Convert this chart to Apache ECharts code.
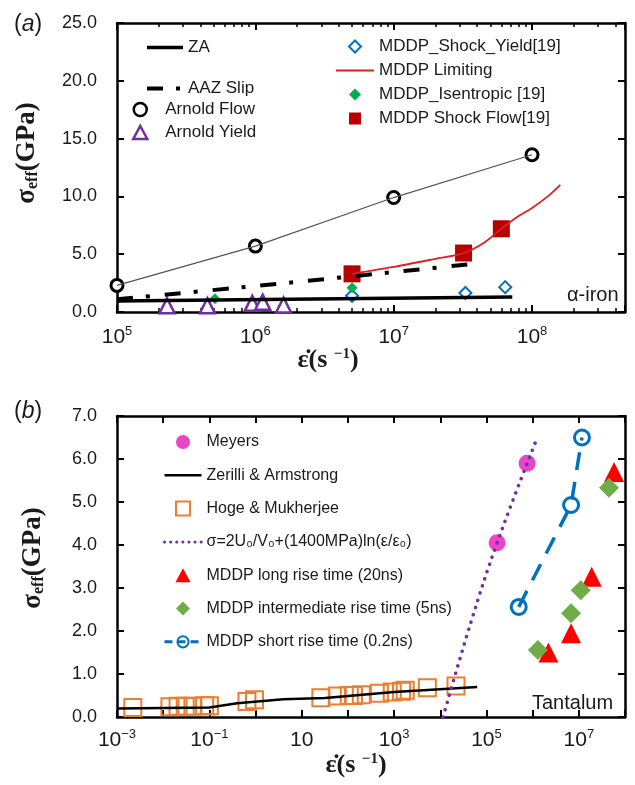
<!DOCTYPE html>
<html>
<head>
<meta charset="utf-8">
<script src="https://cdn.jsdelivr.net/npm/echarts@6/dist/echarts.min.js"></script>
<style>
  html, body { margin: 0; padding: 0; background: #fff; }
  #chart { width: 635px; height: 785px; }
</style>
</head>
<body>
<div id="chart"></div>
<script>
// ---- panel (a): alpha-iron, strain rate (1/s) vs stress (GPa) ----
const zaRate = [1e5, 7.2e7]
const zaStress = [0.95, 1.3]
const aazRate = [1e5, 1e6, 1e7, 4e7]
const aazStress = [1.1, 2.25, 3.45, 4.2]
const arnoldFlowRate = [1e5, 1e6, 1e7, 1e8]
const arnoldFlowStress = [2.3, 5.7, 9.9, 13.6]
const arnoldYieldRate = [2.3e5, 4.5e5, 9.5e5, 1.13e6, 1.6e6]
const arnoldYieldStress = [0.55, 0.55, 0.75, 0.85, 0.6]
const shockYieldRate = [5e6, 3.3e7, 6.4e7]
const shockYieldStress = [1.4, 1.65, 2.15]
const limitingRate = [5e6, 1e7, 2e7, 3.2e7, 4.5e7, 6e7, 8e7, 1e8, 1.3e8, 1.6e8]
const limitingStress = [3.3, 3.9, 4.6, 5.1, 6.0, 7.2, 8.3, 9.0, 10.0, 11.0]
const isentropicRate = [5.1e5, 5e6]
const isentropicStress = [1.15, 2.1]
const shockFlowRate = [5e6, 3.2e7, 6e7]
const shockFlowStress = [3.3, 5.1, 7.2]

// ---- panel (b): tantalum ----
const meyersRate = [1.7e5, 7.6e5]
const meyersStress = [4.05, 5.9]
const zerilliRate = [1e-3, 0.1, 0.4, 4, 32, 1000, 6.3e4]
const zerilliStress = [0.2, 0.22, 0.32, 0.41, 0.44, 0.58, 0.7]
const hogeRate = [0.0022, 0.014, 0.021, 0.03, 0.044, 0.079, 0.1, 0.65, 0.95, 26, 59, 107, 132, 195, 479, 912, 1450, 1740, 5250, 21900]
const hogeStress = [0.22, 0.24, 0.25, 0.25, 0.25, 0.26, 0.26, 0.36, 0.4, 0.45, 0.49, 0.5, 0.5, 0.52, 0.55, 0.58, 0.6, 0.62, 0.68, 0.72]
const sigmaRate = [1.15e4, 4.6e4, 1.7e5, 1.16e6]
const sigmaStress = [0, 2.2, 4.05, 6.4]
const longRate = [2.2e6, 6.8e6, 1.9e7, 5.8e7]
const longStress = [1.5, 1.95, 3.26, 5.7]
const interRate = [1.3e6, 6.8e6, 1.1e7, 4.5e7]
const interStress = [1.56, 2.41, 2.95, 5.33]
const shortRate = [5e5, 6.8e6, 1.17e7]
const shortStress = [2.56, 4.93, 6.5]

// tick labels
const aExponents = [5, 6, 7, 8]
const bExponents = [-3, -1, 1, 3, 5, 7]

const FONT = '"Liberation Sans", Arial, sans-serif'
const SERIF = '"Liberation Serif", "Times New Roman", serif'
const INK = '#1a1a1a'
const SIGMA_NAME = 'σ=2U₀/V₀+(1400MPa)ln(ε/ε₀)'

// legend icons as paths so they keep their aspect inside the wide icon box
const ICON_DIAMOND = 'path://M6,0L12,6L6,12L0,6Z'
const ICON_SQUARE = 'path://M0,0L12,0L12,12L0,12Z'
const ICON_TRIANGLE = 'path://M7,0L14,13L0,13Z'

const pairs = (xs, ys) => xs.map((x, i) => [x, ys[i]])
const logPairs = (xs, ys) => xs.map((x, i) => [Math.log10(x), ys[i]])

const supText = e => String(e).replace('-', '−')
const powLabel = e => e === 1 ? '{b|10}' : '{b|10}{s|' + supText(e) + '}'
const tickRich = {
  b: { fontSize: 21, fontFamily: FONT, color: INK, lineHeight: 24 },
  s: { fontSize: 13, fontFamily: FONT, color: INK, verticalAlign: 'top', lineHeight: 14 }
}

const frameLine = { show: true, onZero: false, lineStyle: { color: '#000', width: 2.5 } }
const tickIn = { show: true, inside: true, length: 7, lineStyle: { color: '#000', width: 2 } }
const minorIn = { show: true, splitNumber: 9, length: 4, lineStyle: { color: '#000', width: 1.5 } }

function logX(gridIndex, position, labels) {
  return {
    type: 'log', logBase: 10, gridIndex, position,
    min: 1e5, max: 4.7e8,
    axisLine: frameLine, axisTick: tickIn, minorTick: minorIn,
    splitLine: { show: false }, minorSplitLine: { show: false },
    axisLabel: {
      show: labels, margin: 13, rich: tickRich,
      formatter: v => {
        const e = Math.round(Math.log10(v))
        return aExponents.includes(e) && Math.abs(Math.log10(v) - e) < 1e-6 ? powLabel(e) : ''
      }
    }
  }
}

function decadeX(gridIndex, position, labels) {
  return {
    type: 'value', gridIndex, position,
    min: -3, max: 8, interval: 1,
    axisLine: frameLine, axisTick: tickIn,
    splitLine: { show: false },
    axisLabel: {
      show: labels, margin: 11, rich: tickRich,
      formatter: v => bExponents.includes(Math.round(v)) ? powLabel(Math.round(v)) : ''
    }
  }
}

function stressY(gridIndex, position, max, interval, labels) {
  return {
    type: 'value', gridIndex, position,
    min: 0, max, interval,
    axisLine: frameLine, axisTick: tickIn,
    splitLine: { show: false },
    axisLabel: {
      show: labels, margin: 20, fontSize: 18, fontFamily: FONT, color: INK,
      formatter: v => v.toFixed(1)
    }
  }
}

const legendText = size => ({ fontSize: size, fontFamily: FONT, color: INK })
// line-only legend entry: hide the marker that the line icon draws in its middle
const lineOnly = (name, lineStyle) => ({ name, lineStyle, itemStyle: { opacity: 0 } })

const option = {
  animation: false,
  backgroundColor: '#fff',
  grid: [
    { left: 117, top: 23, width: 508, height: 289, containLabel: false, outerBoundsMode: 'none' },
    { left: 117, top: 416, width: 508, height: 301, containLabel: false, outerBoundsMode: 'none' }
  ],
  xAxis: [logX(0, 'bottom', true), logX(0, 'top', false), decadeX(1, 'bottom', true), decadeX(1, 'top', false)],
  yAxis: [stressY(0, 'left', 25, 5, true), stressY(0, 'right', 25, 5, false), stressY(1, 'left', 7, 1, true), stressY(1, 'right', 7, 1, false)],
  legend: [
    {
      data: [lineOnly('ZA', { width: 3.5 }), lineOnly('AAZ Slip', { width: 4 })],
      orient: 'vertical', left: 145, top: 39, padding: 0, itemWidth: 36, itemHeight: 14, itemGap: 24,
      symbolKeepAspect: true, textStyle: legendText(17), selectedMode: false
    },
    {
      data: [{ name: 'Arnold Flow', itemStyle: { borderWidth: 2.5 } },
        { name: 'Arnold Yield', icon: ICON_TRIANGLE, itemStyle: { borderWidth: 2.5 } }],
      orient: 'vertical', left: 132, top: 101, padding: 0, itemWidth: 40, itemHeight: 13, itemGap: 6,
      symbolKeepAspect: true, textStyle: legendText(17), selectedMode: false
    },
    {
      data: [{ name: 'MDDP_Shock_Yield[19]', icon: ICON_DIAMOND }, lineOnly('MDDP Limiting', { width: 2 }),
        { name: 'MDDP_Isentropic [19]', icon: ICON_DIAMOND }, { name: 'MDDP Shock Flow[19]', icon: ICON_SQUARE }],
      orient: 'vertical', left: 335, top: 38, padding: 0, itemWidth: 38, itemHeight: 12, itemGap: 7,
      symbolKeepAspect: true, textStyle: legendText(17), selectedMode: false
    },
    {
      data: ['Meyers', lineOnly('Zerilli & Armstrong', { width: 2.5 }), { name: 'Hoge & Mukherjee', icon: ICON_SQUARE },
        lineOnly(SIGMA_NAME, { width: 3, type: [0.1, 6], cap: 'round' }),
        { name: 'MDDP long rise time (20ns)', icon: ICON_TRIANGLE },
        { name: 'MDDP intermediate rise time (5ns)', icon: ICON_DIAMOND },
        { name: 'MDDP short rise time (0.2ns)', lineStyle: { width: 3, type: [8, 5] } }],
      orient: 'vertical', left: 163, top: 434, padding: 0, itemWidth: 37, itemHeight: 14, itemGap: 17.3,
      symbolKeepAspect: true, textStyle: legendText(16), selectedMode: false
    }
  ],
  series: [
    // ----- panel (a)
    {
      name: 'ZA', type: 'line', xAxisIndex: 0, yAxisIndex: 0, data: pairs(zaRate, zaStress),
      symbol: 'none', lineStyle: { color: '#000', width: 3.5 }, itemStyle: { color: '#000' }
    },
    {
      name: 'AAZ Slip', type: 'line', xAxisIndex: 0, yAxisIndex: 0, data: pairs(aazRate, aazStress),
      symbol: 'none', smooth: 0.3, lineStyle: { color: '#000', width: 4, type: [16, 13, 4, 15] }, itemStyle: { color: '#000' }
    },
    {
      name: 'Arnold Flow trend', type: 'line', xAxisIndex: 0, yAxisIndex: 0, data: pairs(arnoldFlowRate, arnoldFlowStress),
      symbol: 'none', lineStyle: { color: '#555', width: 1.2 }
    },
    {
      name: 'Arnold Flow', type: 'scatter', xAxisIndex: 0, yAxisIndex: 0, data: pairs(arnoldFlowRate, arnoldFlowStress),
      symbol: 'circle', symbolSize: 12, itemStyle: { color: '#fff', borderColor: '#000', borderWidth: 3, opacity: 1 }
    },
    {
      name: 'Arnold Yield', type: 'scatter', xAxisIndex: 0, yAxisIndex: 0, data: pairs(arnoldYieldRate, arnoldYieldStress),
      symbol: 'triangle', symbolSize: 15, itemStyle: { color: '#fff', borderColor: '#7030A0', borderWidth: 2.5, opacity: 1 }
    },
    {
      name: 'MDDP_Shock_Yield[19]', type: 'scatter', xAxisIndex: 0, yAxisIndex: 0, data: pairs(shockYieldRate, shockYieldStress),
      symbol: 'diamond', symbolSize: 12, itemStyle: { color: '#fff', borderColor: '#0070C0', borderWidth: 2, opacity: 1 }
    },
    {
      name: 'MDDP Limiting', type: 'line', xAxisIndex: 0, yAxisIndex: 0, data: pairs(limitingRate, limitingStress),
      symbol: 'none', smooth: 0.3, lineStyle: { color: '#E02020', width: 1.8 }, itemStyle: { color: '#E02020' }
    },
    {
      name: 'MDDP_Isentropic [19]', type: 'scatter', xAxisIndex: 0, yAxisIndex: 0, data: pairs(isentropicRate, isentropicStress),
      symbol: 'diamond', symbolSize: 11, itemStyle: { color: '#00B050', opacity: 1 }
    },
    {
      name: 'MDDP Shock Flow[19]', type: 'scatter', xAxisIndex: 0, yAxisIndex: 0, data: pairs(shockFlowRate, shockFlowStress),
      symbol: 'rect', symbolSize: 17, itemStyle: { color: '#B80000', opacity: 1 }
    },
    // ----- panel (b), x in decades
    {
      name: 'Zerilli & Armstrong', type: 'line', xAxisIndex: 2, yAxisIndex: 2, data: logPairs(zerilliRate, zerilliStress),
      symbol: 'none', lineStyle: { color: '#000', width: 2.5 }, itemStyle: { color: '#000' }
    },
    {
      name: 'Hoge & Mukherjee', type: 'scatter', xAxisIndex: 2, yAxisIndex: 2, data: logPairs(hogeRate, hogeStress),
      symbol: 'rect', symbolSize: 17, itemStyle: { color: 'rgba(255,255,255,0)', borderColor: '#ED7D31', borderWidth: 2, opacity: 1 }
    },
    {
      name: SIGMA_NAME, type: 'line', xAxisIndex: 2, yAxisIndex: 2, data: logPairs(sigmaRate, sigmaStress),
      symbol: 'none', smooth: 0.4, lineStyle: { color: '#7030A0', width: 3.5, type: [0.1, 7.5], cap: 'round' }, itemStyle: { color: '#7030A0' }
    },
    {
      name: 'Meyers', type: 'scatter', xAxisIndex: 2, yAxisIndex: 2, data: logPairs(meyersRate, meyersStress),
      symbol: 'circle', symbolSize: 17, itemStyle: { color: '#E845C8', opacity: 1 }
    },
    {
      name: 'MDDP short rise time (0.2ns)', type: 'line', xAxisIndex: 2, yAxisIndex: 2, data: logPairs(shortRate, shortStress),
      symbol: 'circle', symbolSize: 15, showSymbol: true,
      lineStyle: { color: '#0070C0', width: 3.5, type: [18, 12] },
      itemStyle: { color: 'rgba(255,255,255,0)', borderColor: '#0070C0', borderWidth: 3 }
    },
    {
      name: 'MDDP long rise time (20ns)', type: 'scatter', xAxisIndex: 2, yAxisIndex: 2, data: logPairs(longRate, longStress),
      symbol: 'triangle', symbolSize: 20, itemStyle: { color: '#FF0000', opacity: 1 }
    },
    {
      name: 'MDDP intermediate rise time (5ns)', type: 'scatter', xAxisIndex: 2, yAxisIndex: 2, data: logPairs(interRate, interStress),
      symbol: 'diamond', symbolSize: 20, itemStyle: { color: '#70AD47', opacity: 1 }
    }
  ],
  graphic: [
    {
      type: 'text', x: 14, y: 25,
      style: {
        text: '{n|(}{i|a}{n|)}', verticalAlign: 'middle', textVerticalAlign: 'middle',
        rich: { n: { fontSize: 23, fontFamily: FONT, fill: INK }, i: { fontSize: 23, fontFamily: FONT, fontStyle: 'italic', fill: INK } }
      }
    },
    {
      type: 'text', x: 14, y: 412,
      style: {
        text: '{n|(}{i|b}{n|)}', verticalAlign: 'middle', textVerticalAlign: 'middle',
        rich: { n: { fontSize: 23, fontFamily: FONT, fill: INK }, i: { fontSize: 23, fontFamily: FONT, fontStyle: 'italic', fill: INK } }
      }
    },
    {
      type: 'text', x: 27, y: 153, rotation: Math.PI / 2,
      style: {
        text: '{m|σ}{sb|eff}{m|(GPa)}', align: 'center', textAlign: 'center', verticalAlign: 'middle', textVerticalAlign: 'middle',
        rich: {
          m: { fontSize: 27, fontWeight: 'bold', fontFamily: SERIF, fill: INK },
          sb: { fontSize: 16, fontWeight: 'bold', fontFamily: SERIF, fill: INK, verticalAlign: 'bottom' }
        }
      }
    },
    {
      type: 'text', x: 33, y: 558, rotation: Math.PI / 2,
      style: {
        text: '{m|σ}{sb|eff}{m|(GPa)}', align: 'center', textAlign: 'center', verticalAlign: 'middle', textVerticalAlign: 'middle',
        rich: {
          m: { fontSize: 27, fontWeight: 'bold', fontFamily: SERIF, fill: INK },
          sb: { fontSize: 16, fontWeight: 'bold', fontFamily: SERIF, fill: INK, verticalAlign: 'bottom' }
        }
      }
    },
    {
      type: 'text', x: 328, y: 360,
      style: {
        text: '{t|ε̇(s }{p|−1}{t|)}', align: 'center', textAlign: 'center', verticalAlign: 'middle', textVerticalAlign: 'middle',
        rich: {
          t: { fontSize: 26, fontWeight: 'bold', fontFamily: SERIF, fill: INK },
          p: { fontSize: 15, fontWeight: 'bold', fontFamily: SERIF, fill: INK, verticalAlign: 'top' }
        }
      }
    },
    {
      type: 'text', x: 356, y: 765,
      style: {
        text: '{t|ε̇(s }{p|−1}{t|)}', align: 'center', textAlign: 'center', verticalAlign: 'middle', textVerticalAlign: 'middle',
        rich: {
          t: { fontSize: 26, fontWeight: 'bold', fontFamily: SERIF, fill: INK },
          p: { fontSize: 15, fontWeight: 'bold', fontFamily: SERIF, fill: INK, verticalAlign: 'top' }
        }
      }
    },
    {
      type: 'text', x: 567, y: 295,
      style: { text: 'α-iron', font: '20px ' + FONT, fill: INK, verticalAlign: 'middle', textVerticalAlign: 'middle' }
    },
    {
      type: 'text', x: 532, y: 703,
      style: { text: 'Tantalum', font: '20px ' + FONT, fill: INK, verticalAlign: 'middle', textVerticalAlign: 'middle' }
    }
  ]
}

const chart = echarts.init(document.getElementById('chart'))
chart.setOption(option)
</script>
</body>
</html>
